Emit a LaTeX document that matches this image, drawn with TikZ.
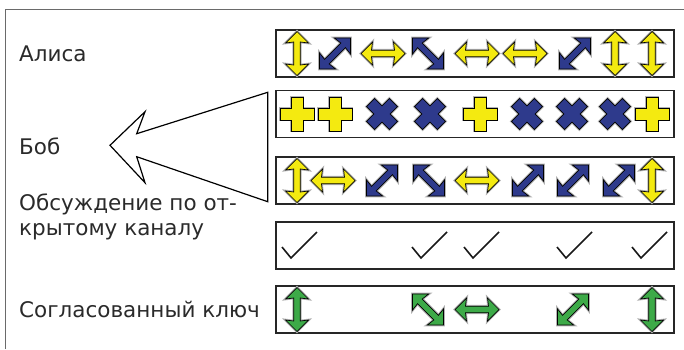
\documentclass[tikz,border=0pt]{standalone}
\usepackage{fontspec}
\newfontfamily\labfont{DejaVu Sans}
\definecolor{qyel}{HTML}{F4EA10}
\definecolor{qblu}{HTML}{2E3A8C}
\definecolor{qgrn}{HTML}{3DAA48}
\definecolor{qtxt}{HTML}{2A2A2A}
\definecolor{qframe}{HTML}{6A6A6A}
\tikzset{
  rowbox/.style={draw=black!85, line width=1.6pt, minimum width=398pt, minimum height=47pt, inner sep=0pt},
  lab/.style={anchor=base west, inner sep=0pt, font=\labfont\fontsize{21.5}{25}\selectfont, text=qtxt, align=left},
  symb/.style={draw=black, line width=0.7pt, line join=miter, preaction={draw=black!30, line width=2.6pt}},
  dbl/.pic={\path[symb, fill=#1] (-22,0) -- (-10.5,-11.5) -- (-11.5,-3.3) -- (11.5,-3.3) -- (10.5,-11.5) -- (22,0) -- (10.5,11.5) -- (11.5,3.3) -- (-11.5,3.3) -- (-10.5,11.5) -- cycle;},
  plus/.pic={\path[symb, fill=#1] (-6,-17) -- (6,-17) -- (6,-6) -- (17,-6) -- (17,6) -- (6,6) -- (6,17) -- (-6,17) -- (-6,6) -- (-17,6) -- (-17,-6) -- (-6,-6) -- cycle;},
  tick/.pic={\draw[line width=1.6pt, black!90] (-18,1.5) -- (-9,12.5) -- (17,-13.5);},
}
\begin{document}
\begin{tikzpicture}[x=1pt,y=-1pt]
\useasboundingbox (0,0) rectangle (684,349);
% outer frame (top and left)
\draw[qframe, line width=1pt] (5,349) -- (5,9) -- (684,9);
% labels
\node[lab] (alice) at (19,61.3) {Алиса};
\node[lab] (bob) at (19,154.8) {Боб};
\node[lab] (disc) at (19,235.5) {Обсуждение по от-\\крытому каналу};
\node[lab] (key) at (19,317.3) {Согласованный ключ};
% row boxes
\node[rowbox] (r1) at (475,53.5) {};
\node[rowbox] (r2) at (475,114) {};
\node[rowbox] (r3) at (475,180.5) {};
\node[rowbox] (r4) at (475,245.5) {};
\node[rowbox] (r5) at (475,309.5) {};
% hollow arrow to Bob
\draw[line width=1.2pt, line join=miter] (267.7,92.3) -- (136.7,133.7) -- (145,111.7) -- (110,145.3) -- (145,182.7) -- (136.7,156.7) -- (267.7,201.7) -- cycle;
% row 1: Alice
\pic[rotate=90] at (297,53.5) {dbl=qyel};
\pic[rotate=45] at (335,53.5) {dbl=qblu};
\pic at (383,53.5) {dbl=qyel};
\pic[rotate=-45] at (428,53.5) {dbl=qblu};
\pic at (477,53.5) {dbl=qyel};
\pic at (525,53.5) {dbl=qyel};
\pic[rotate=45] at (575,53.5) {dbl=qblu};
\pic[rotate=90] at (615,53.5) {dbl=qyel};
\pic[rotate=90] at (652,53.5) {dbl=qyel};
% row 2: Bob's bases
\pic at (297,114) {plus=qyel};
\pic at (335,114) {plus=qyel};
\pic[rotate=45, scale=0.95] at (382,114) {plus=qblu};
\pic[rotate=45, scale=0.95] at (430,114) {plus=qblu};
\pic at (480,114) {plus=qyel};
\pic[rotate=45, scale=0.95] at (527,114) {plus=qblu};
\pic[rotate=45, scale=0.95] at (572,114) {plus=qblu};
\pic[rotate=45, scale=0.95] at (615,114) {plus=qblu};
\pic at (652,114) {plus=qyel};
% row 3: Bob's results
\pic[rotate=90] at (297,180.5) {dbl=qyel};
\pic at (333,180.5) {dbl=qyel};
\pic[rotate=45] at (382,180.5) {dbl=qblu};
\pic[rotate=-45] at (429,180.5) {dbl=qblu};
\pic at (477,180.5) {dbl=qyel};
\pic[rotate=45] at (528,180.5) {dbl=qblu};
\pic[rotate=45] at (573,180.5) {dbl=qblu};
\pic[rotate=45] at (619,180.5) {dbl=qblu};
\pic[rotate=90] at (652,180.5) {dbl=qyel};
% row 4: checks
\pic at (300,245.5) {tick};
\pic at (430,245.5) {tick};
\pic at (482,245.5) {tick};
\pic at (575,245.5) {tick};
\pic at (650,245.5) {tick};
% row 5: key
\pic[rotate=90] at (297,309.5) {dbl=qgrn};
\pic[rotate=-45] at (428,309.5) {dbl=qgrn};
\pic at (477,309.5) {dbl=qgrn};
\pic[rotate=45] at (573,309.5) {dbl=qgrn};
\pic[rotate=90] at (652,309.5) {dbl=qgrn};
\end{tikzpicture}
\end{document}
